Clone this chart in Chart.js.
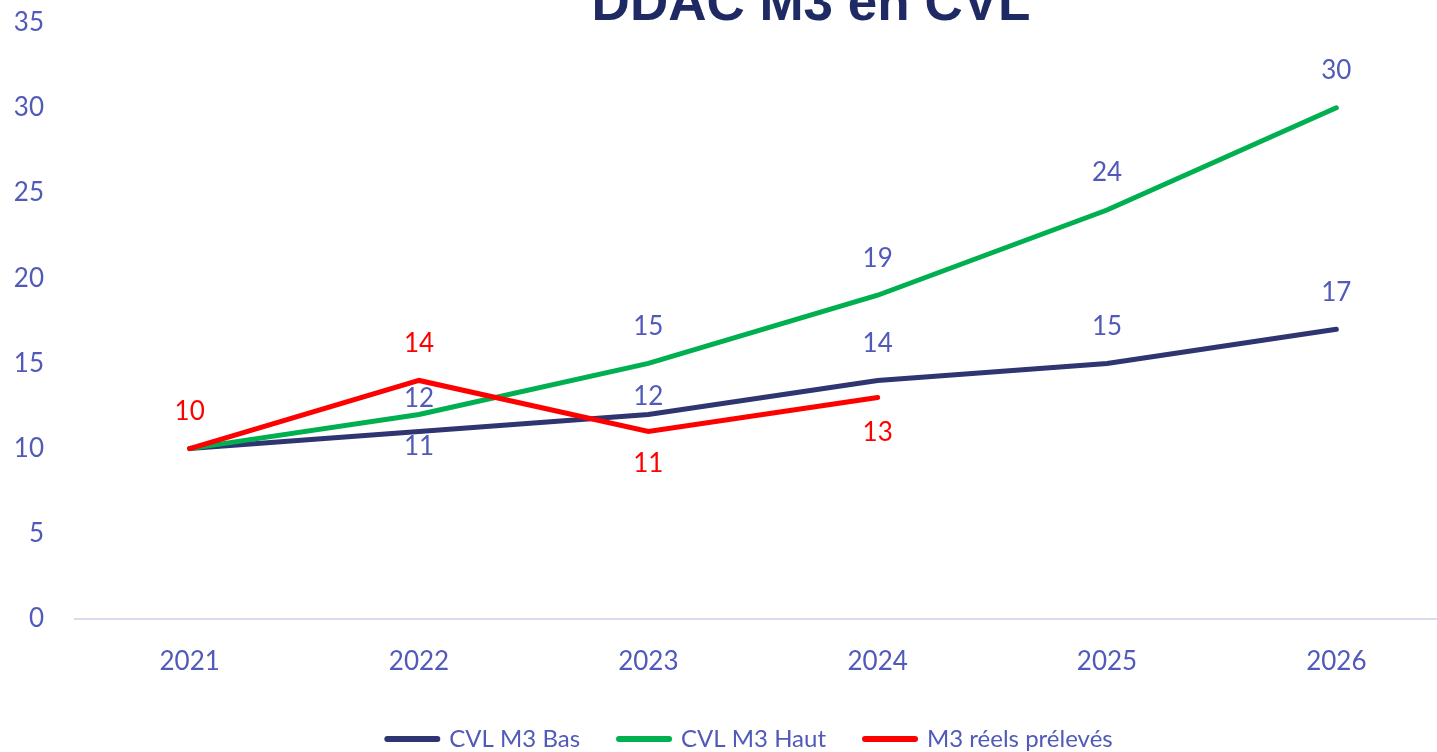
<!DOCTYPE html>
<html>
<head>
<meta charset="utf-8">
<script src="https://cdn.jsdelivr.net/npm/chart.js@4/dist/chart.umd.min.js"></script>
<style>
  html, body { margin: 0; padding: 0; background: #fff; overflow: hidden; }
  #wrap { position: absolute; left: 0; top: -24px; width: 1451px; height: 785px; }
</style>
</head>
<body>
<div id="wrap"><canvas id="chart"></canvas></div>
<script>
const chartTitle = 'DDAC M3 en CVL';
const years = ['2021', '2022', '2023', '2024', '2025', '2026'];
const cvlBas = [10, 11, 12, 14, 15, 17];
const cvlHaut = [10, 12, 15, 19, 24, 30];
const reelsPreleves = [10, 14, 11, 13];

// where each value label sits relative to its point (null = hidden)
const basLabelShift = [null, 15, -18, -37, -37, -37];
const hautLabelShift = [null, -16, -37, -37, -37, -37];
const reelsLabelShift = [-37, -37, 32, 35];

const tickBlue = '#5159B9';

// value labels drawn next to the points
const valueLabels = {
    id: 'valueLabels',
    afterDatasetsDraw(chart) {
        const ctx = chart.ctx;
        ctx.save();
        ctx.font = '26px Lato';
        ctx.textAlign = 'center';
        ctx.textBaseline = 'middle';
        chart.data.datasets.forEach((ds, i) => {
            const meta = chart.getDatasetMeta(i);
            meta.data.forEach((pt, j) => {
                const shift = ds.labelShift[j];
                if (shift === null) return;
                ctx.fillStyle = ds.labelColor;
                ctx.fillText(ds.data[j], pt.x, pt.y + shift);
            });
        });
        ctx.restore();
    }
};

// title overlaps the top of the plot, so draw it by hand
const overlapTitle = {
    id: 'overlapTitle',
    afterLayout(chart) {
        // legend sits a bit left of the plot centre in the original
        chart.legend.left -= 13;
        chart.legend.right -= 13;
    },
    afterDraw(chart) {
        const ctx = chart.ctx;
        ctx.save();
        ctx.font = 'bold 53px "Liberation Sans"';
        ctx.fillStyle = '#1F2A64';
        ctx.textAlign = 'center';
        ctx.textBaseline = 'alphabetic';
        ctx.fillText(chartTitle, 811, 44);
        ctx.restore();
    }
};

const ctx = document.getElementById('chart').getContext('2d');
new Chart(ctx, {
    type: 'line',
    data: {
        labels: years,
        datasets: [
            {
                label: 'CVL M3 Bas',
                data: cvlBas,
                borderColor: '#2F3571',
                backgroundColor: '#2F3571',
                borderWidth: 5,
                borderCapStyle: 'round',
                pointRadius: 0,
                tension: 0,
                order: 2,
                labelColor: tickBlue,
                labelShift: basLabelShift
            },
            {
                label: 'CVL M3 Haut',
                data: cvlHaut,
                borderColor: '#00B050',
                backgroundColor: '#00B050',
                borderWidth: 5,
                borderCapStyle: 'round',
                pointRadius: 0,
                tension: 0,
                order: 1,
                labelColor: tickBlue,
                labelShift: hautLabelShift
            },
            {
                label: 'M3 réels prélevés',
                data: reelsPreleves,
                borderColor: '#FF0000',
                backgroundColor: '#FF0000',
                borderWidth: 5,
                borderCapStyle: 'round',
                pointRadius: 0,
                tension: 0,
                order: 0,
                labelColor: '#FF0000',
                labelShift: reelsLabelShift
            }
        ]
    },
    options: {
        responsive: true,
        maintainAspectRatio: false,
        animation: false,
        layout: { padding: 0 },
        scales: {
            x: {
                offset: true,
                grid: { display: false, drawTicks: false },
                border: { display: true, color: '#D9DCEE', width: 2 },
                ticks: { color: tickBlue, font: { family: 'Lato', size: 26 }, padding: 27 },
                afterFit(scale) { scale.height = 69; }
            },
            y: {
                min: 0,
                max: 35,
                grid: { display: false, drawTicks: false },
                border: { display: false },
                ticks: { stepSize: 5, color: tickBlue, font: { family: 'Lato', size: 26 }, padding: 31 },
                afterFit(scale) { scale.width = 75; }
            }
        },
        plugins: {
            title: { display: false },
            tooltip: { enabled: false },
            legend: {
                position: 'bottom',
                fullSize: false,
                labels: {
                    color: tickBlue,
                    font: { family: 'Lato', size: 24 },
                    usePointStyle: true,
                    pointStyle: 'line',
                    pointStyleWidth: 50,
                    padding: 39,
                    sort: (a, b) => a.datasetIndex - b.datasetIndex,
                    generateLabels(chart) {
                        const items = Chart.defaults.plugins.legend.labels.generateLabels(chart);
                        items.forEach(it => { it.lineWidth = 6; it.lineCap = 'round'; });
                        return items;
                    }
                }
            }
        }
    },
    plugins: [valueLabels, overlapTitle]
});
</script>
</body>
</html>
